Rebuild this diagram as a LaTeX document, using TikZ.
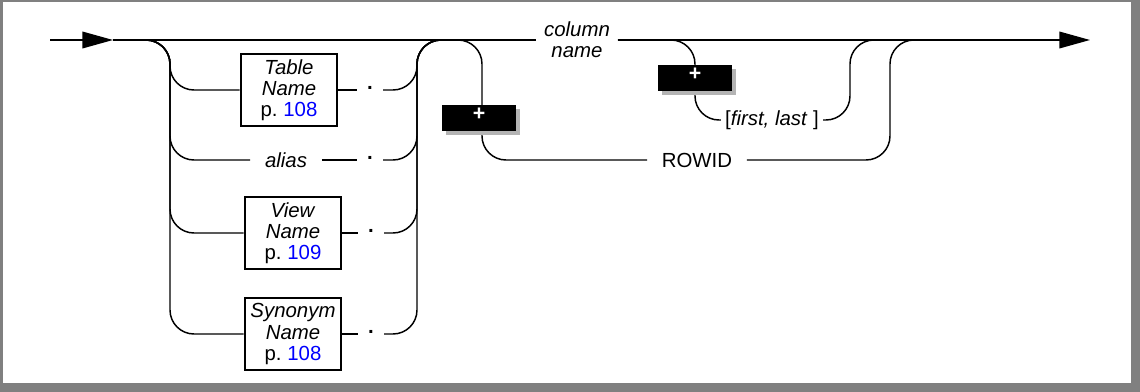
\documentclass[tikz,border=0pt]{standalone}
\usepackage{fontspec}
\setmainfont{Liberation Sans}
\usepackage{xcolor}
\definecolor{frame}{RGB}{128,128,128}
\definecolor{shade}{RGB}{180,180,180}
\definecolor{pageref}{RGB}{0,0,255}
\usetikzlibrary{positioning, arrows.meta, shadows}

\newcommand{\pg}[1]{p.~\textcolor{pageref}{#1}}

\begin{document}
\begin{tikzpicture}[
  x=0.75pt, y=-0.75pt,
  rail/.style={line width=1.1pt, rounded corners=18pt},
  tip/.style={-{Triangle[length=23pt, width=12.5pt]}},
  ref/.style={draw, line width=2.2pt, minimum width=72pt, minimum height=54pt,
              inner sep=2pt, align=center, font=\fontsize{15.3}{15.8}\selectfont},
  word/.style={inner ysep=1pt, align=center, font=\fontsize{15.3}{15.8}\selectfont},
  dotnode/.style={inner xsep=7.5pt, inner ysep=0pt, text height=2pt, text depth=2pt,
                  font=\fontsize{15.3}{15.8}\selectfont\bfseries},
  plusbox/.style={fill=black, text=white, minimum width=55.5pt, minimum height=19.5pt,
                  inner sep=0pt, font=\fontsize{16}{16}\selectfont\bfseries,
                  drop shadow={shadow xshift=3pt, shadow yshift=-3pt, fill=shade, opacity=1}},
]
  % Frame
  \fill[frame] (0,0) rectangle (1140,392);
  \fill[white] (3,2) rectangle (1131,383);

  % Main line points
  \coordinate (start) at (50,40);
  \coordinate (tip1) at (113,40);
  \coordinate (lsplit) at (170,40);
  \coordinate (ljoin) at (417,40);
  \coordinate (rsplit) at (482,40);
  \coordinate (flsplit) at (695,40);
  \coordinate (fljoin) at (850,40);
  \coordinate (rjoin) at (890,40);
  \coordinate (past) at (960,40);
  \coordinate (finish) at (1090,40);

  % Qualifiers
  \node[ref] (tbl) at (289,90) {\textit{Table}\\\textit{Name}\\\pg{108}};
  \node[dotnode] (tbl-dot) at (370,90) {.};
  \node[word, inner xsep=11pt] (alias) at (286,160) {\textit{alias}};
  \node[dotnode] (alias-dot) at (370,160) {.};
  \node[ref] (view) at (293,233) {\textit{View}\\\textit{Name}\\\pg{109}};
  \node[dotnode] (view-dot) at (371,233) {.};
  \node[ref] (syn) at (293,334) {\textit{Synonym}\\\textit{Name}\\\pg{108}};
  \node[dotnode] (syn-dot) at (371,334) {.};

  % Column choices
  \node[word, inner xsep=5.7pt] (colname) at (577,40) {\textit{column}\\\textit{name}};
  \node[word, inner xsep=10.9pt] (rowid) at (697,160) {ROWID};
  \node[word, inner xsep=3pt] (fl) at (772,120) {[\textit{first, last} ]};

  % Main line
  \draw[rail, tip] (start) -- (tip1);
  \draw[rail] (tip1) -- (colname.west);
  \draw[rail, tip] (colname.east) -- (finish);

  % Left group
  \foreach \n in {tbl, alias, view, syn} {
    \draw[rail] (tip1) -| (\n.west -| lsplit) -- (\n.west);
    \draw[rail] (\n.east) -- (\n-dot.west);
    \draw[rail] (\n-dot.east) -| (ljoin) -- (rsplit);
  }

  % ROWID branch
  \draw[rail] (ljoin) -| (rowid.west -| rsplit) -- (rowid.west);
  \draw[rail] (rowid.east) -| (rjoin) -- (past);

  % Subscript branch
  \draw[rail] (colname.east) -| (fl.west -| flsplit) -- (fl.west);
  \draw[rail] (fl.east) -| (fljoin) -- (rjoin);

  % Extension marks
  \node[plusbox] (plus1) at (479,118) {\raisebox{3pt}[\height][\depth]{+}};
  \node[plusbox] (plus2) at (695,78) {\raisebox{3pt}[\height][\depth]{+}};
\end{tikzpicture}
\end{document}
